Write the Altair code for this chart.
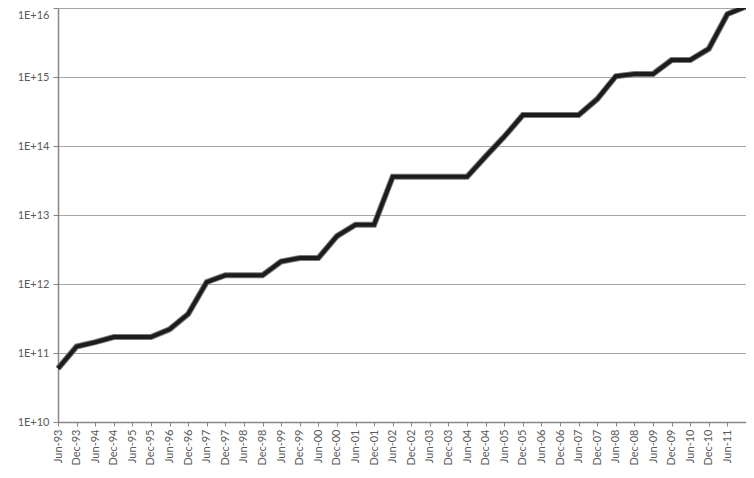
import altair as alt
import pandas as pd

periods = ["Jun-93", "Dec-93", "Jun-94", "Dec-94", "Jun-95", "Dec-95", "Jun-96", "Dec-96",
           "Jun-97", "Dec-97", "Jun-98", "Dec-98", "Jun-99", "Dec-99", "Jun-00", "Dec-00",
           "Jun-01", "Dec-01", "Jun-02", "Dec-02", "Jun-03", "Dec-03", "Jun-04", "Dec-04",
           "Jun-05", "Dec-05", "Jun-06", "Dec-06", "Jun-07", "Dec-07", "Jun-08", "Dec-08",
           "Jun-09", "Dec-09", "Jun-10", "Dec-10", "Jun-11", "Dec-11"]

flops = [5.97e10, 1.24e11, 1.434e11, 1.70e11, 1.70e11, 1.70e11, 2.204e11, 3.682e11,
         1.068e12, 1.338e12, 1.338e12, 1.338e12, 2.121e12, 2.379e12, 2.379e12, 4.938e12,
         7.226e12, 7.226e12, 3.586e13, 3.586e13, 3.586e13, 3.586e13, 3.586e13, 7.072e13,
         1.368e14, 2.806e14, 2.806e14, 2.806e14, 2.806e14, 4.782e14, 1.026e15, 1.105e15,
         1.105e15, 1.759e15, 1.759e15, 2.566e15, 8.162e15, 1.051e16]

y_ticks = [1e10, 1e11, 1e12, 1e13, 1e14, 1e15, 1e16]

df = pd.DataFrame({"period": periods, "flops": flops})

FONT = "Lato"
GREY = "#595959"

x_enc = alt.X("period:O", sort=None,
              scale=alt.Scale(type="point", padding=0),
              axis=alt.Axis(title=None, labelAngle=270, labelFont=FONT, labelFontSize=11,
                            labelColor=GREY, labelPadding=3, tickSize=4, tickColor="#868686",
                            domainColor="#868686", domainWidth=1.5,
                            labelExpr="datum.value == 'Dec-11' ? '' : datum.label",
                            grid=False))
y_enc = alt.Y("flops:Q",
              scale=alt.Scale(type="log", domain=[1e10, 1e16], nice=False),
              axis=alt.Axis(title=None, values=y_ticks, labelFont=FONT, labelFontSize=11,
                            labelColor=GREY, labelPadding=4, tickSize=5, tickColor="#868686",
                            domainColor="#868686", domainWidth=1.5,
                            labelExpr="replace(format(datum.value, '.0e'), 'e', 'E')",
                            labelOffset={"condition": {"test": "datum.value >= 1e16", "value": 7},
                                         "value": 0},
                            grid=True, gridColor="#a6a6a6", gridWidth=1))

shadow = alt.Chart(df).mark_line(color="#7a7a7a", strokeWidth=6, strokeJoin="miter").encode(
    x=x_enc, y=y_enc)
line = alt.Chart(df).mark_line(color="#1c1c1c", strokeWidth=4, strokeJoin="miter").encode(
    x=x_enc, y=y_enc)

chart = (shadow + line).properties(
    width=688, height=414,
    autosize=alt.AutoSizeParams(type="none"),
    padding={"left": 50, "top": 0, "right": 0, "bottom": 46},
    background="white",
).configure_view(stroke=None)

chart.save("out.html", embed_options={"renderer": "svg", "actions": False})
